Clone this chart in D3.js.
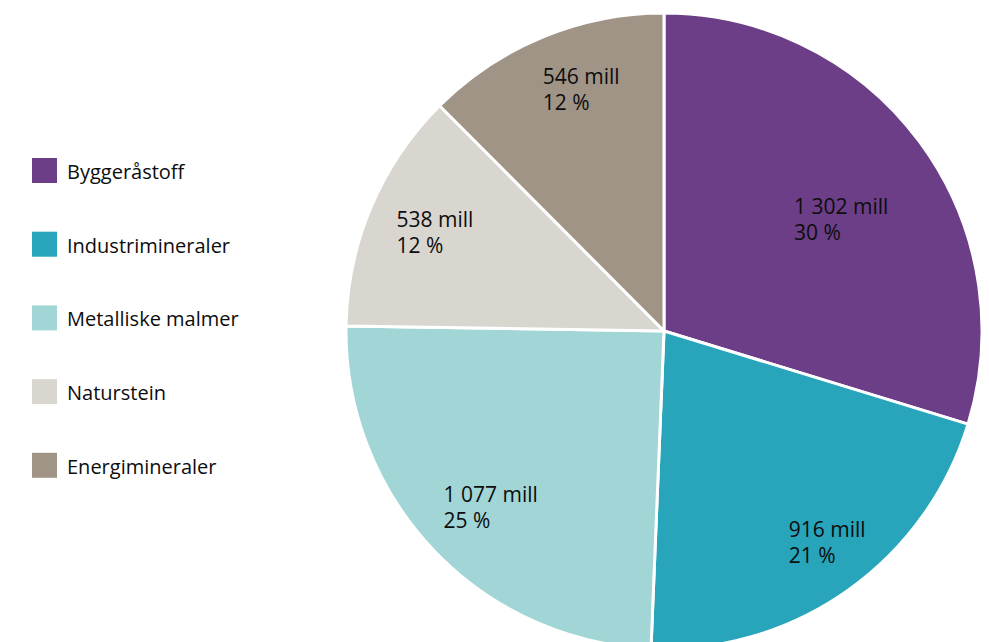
<!DOCTYPE html>
<html>
<head>
<meta charset="utf-8">
<script src="https://cdn.jsdelivr.net/npm/d3@7"></script>
<style>
  body { margin: 0; background: #fff; }
  svg { display: block; font-family: "Open Sans", sans-serif; }
</style>
</head>
<body>
<svg id="chart"></svg>
<script>
const categories = ["Byggeråstoff", "Industrimineraler", "Metalliske malmer", "Naturstein", "Energimineraler"];
const values = [1302, 916, 1077, 538, 546];
const valueLabels = ["1 302 mill", "916 mill", "1 077 mill", "538 mill", "546 mill"];
const percentLabels = ["30 %", "21 %", "25 %", "12 %", "12 %"];
const colors = ["#6c3e87", "#28a4bb", "#a1d5d6", "#d9d6d0", "#a09486"];

const width = 989, height = 642;
const cx = 664, cy = 331, radius = 318;

// label placement: [fraction of radius, angle nudge in degrees]
const labelPos = {
  "Byggeråstoff": [0.68, 1.5],
  "Industrimineraler": [0.81, -4],
  "Metalliske malmer": [0.75, 0],
  "Naturstein": [0.80, 2.8],
  "Energimineraler": [0.84, 4.4]
};

const data = categories.map((c, i) => ({ cat: c, value: values[i], v: valueLabels[i], p: percentLabels[i], color: colors[i] }));

const svg = d3.select("#chart").attr("width", width).attr("height", height);

const pie = d3.pie().sort(null).value(d => d.value);
const arc = d3.arc().innerRadius(0).outerRadius(radius);
const arcs = pie(data);

const g = svg.append("g").attr("transform", `translate(${cx},${cy})`);

g.selectAll("path")
  .data(arcs)
  .enter()
  .append("path")
  .attr("d", arc)
  .attr("fill", d => d.data.color)
  .attr("stroke", "#fff")
  .attr("stroke-width", 3)
  .attr("stroke-linejoin", "round");

// labels, two lines, left aligned, first line centred on the point
arcs.forEach(d => {
  const [f, nudge] = labelPos[d.data.cat];
  const a = (d.startAngle + d.endAngle) / 2 + nudge * Math.PI / 180;
  const x = radius * f * Math.sin(a);
  const y = -radius * f * Math.cos(a);
  const t = g.append("text")
    .attr("font-size", 21)
    .attr("fill", "#0d0d0d");
  t.append("tspan").attr("x", 0).attr("y", y + 7).text(d.data.v);
  t.append("tspan").attr("x", 0).attr("y", y + 33).text(d.data.p);
  const w = t.select("tspan").node().getComputedTextLength();
  t.attr("transform", `translate(${x - w / 2},0)`);
});

// legend
const legend = svg.append("g").attr("transform", "translate(32,158)");
const row = legend.selectAll("g")
  .data(data)
  .enter()
  .append("g")
  .attr("transform", (d, i) => `translate(0,${i * 73.7})`);

row.append("rect")
  .attr("width", 25)
  .attr("height", 25)
  .attr("fill", d => d.color);

row.append("text")
  .attr("x", 35)
  .attr("y", 21)
  .attr("font-size", 20)
  .attr("fill", "#0d0d0d")
  .text(d => d.cat);
</script>
</body>
</html>
